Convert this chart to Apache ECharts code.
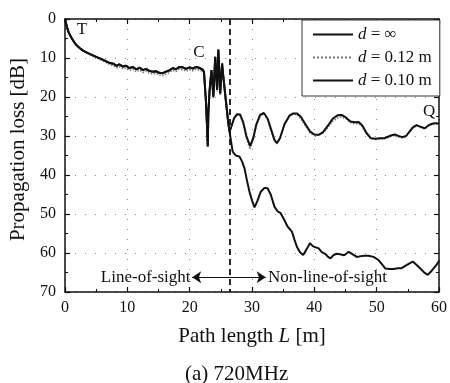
<!DOCTYPE html>
<html>
<head>
<meta charset="UTF-8">
<title>Propagation loss - 720MHz</title>
<script src="https://cdn.jsdelivr.net/npm/echarts@6/dist/echarts.min.js"></script>
<style>
  html, body { margin: 0; padding: 0; background: #fff; }
  #main { width: 450px; height: 383px; }
</style>
</head>
<body>
<div id="main"></div>
<script>
// path length L [m] / propagation loss [dB]
const losPath = [
  [0, 0], [0.3, 2], [0.6, 3.5], [1.1, 5], [1.5, 6], [1.9, 6.8], [2.4, 7.5], [2.9, 8.1],
  [3.6, 8.7], [4.3, 9.2], [5, 9.7], [5.6, 10.1], [6.3, 10.6], [7.2, 11.3], [7.8, 11.5],
  [8.3, 12], [8.7, 11.6], [9.3, 12.2], [9.8, 12], [10.3, 12.6], [10.9, 12.3], [11.4, 12.9],
  [12, 12.5], [12.5, 13.1], [13, 12.8], [13.5, 13.3], [14.1, 13.5], [14.6, 13.4], [15.1, 13.8],
  [15.7, 13.9], [16.2, 13.5], [16.7, 13.2], [17.3, 12.6], [17.8, 12.9], [18.3, 12.3],
  [18.9, 12.4], [19.4, 12.8], [20, 12.4], [20.5, 12.7], [21, 12.3], [21.5, 12.5], [21.8, 12.2],
  [22.1, 13], [22.3, 13.6], [22.6, 20.8], [22.8, 28], [22.9, 32.7], [23.0, 24], [23.2, 18.2],
  [23.5, 13.1], [23.8, 19.9], [24.1, 9.7], [24.4, 18.2], [24.6, 7.8], [24.9, 19.1],
  [25.2, 11.4], [25.4, 14.8], [25.8, 20.8], [26.2, 26.7], [26.4, 28.9]
];
const losPath012 = [
  [0, 0], [0.3, 2], [0.6, 3.5], [1.1, 5], [1.5, 6], [1.9, 6.8], [2.4, 7.5], [2.9, 8.1],
  [3.6, 8.8], [4.3, 9.4], [5, 9.9], [5.6, 10.4], [6.3, 10.9], [7.2, 11.7], [7.8, 12],
  [8.3, 12.5], [8.7, 12.2], [9.3, 12.8], [9.8, 12.6], [10.3, 13.2], [10.9, 12.9], [11.4, 13.5],
  [12, 13.1], [12.5, 13.7], [13, 13.4], [13.5, 13.9], [14.1, 14.1], [14.6, 14], [15.1, 14.4],
  [15.7, 14.5], [16.2, 14.1], [16.7, 13.8], [17.3, 13.2], [17.8, 13.5], [18.3, 12.9],
  [18.9, 13], [19.4, 13.4], [20, 13], [20.5, 13.3], [21, 12.9], [21.5, 13.1], [21.8, 12.8],
  [22.1, 13.4], [22.3, 14], [22.6, 21.5], [22.8, 28.5], [22.9, 32], [23.0, 24.5], [23.2, 18.8],
  [23.5, 13.6], [23.8, 20.4], [24.1, 10.2], [24.4, 18.6], [24.6, 8.3], [24.9, 19.5],
  [25.2, 11.9], [25.4, 15.2], [25.8, 21.2], [26.2, 27], [26.4, 29.2]
];
const nlosInf = [
  [26.6, 31], [26.9, 34], [27.4, 35], [28, 35.3], [28.4, 36.5], [28.8, 38.3], [29.2, 41.5],
  [29.6, 44.3], [30, 46.5], [30.4, 48.3], [30.9, 46.5], [31.4, 44.3], [32, 43.3], [32.5, 43.4],
  [33, 45], [33.6, 48.1], [34.1, 49.3], [34.6, 49.8], [35.1, 51.3], [35.7, 53.2], [36.4, 54.5],
  [36.8, 56.5], [37.2, 58.4], [37.7, 59.8], [38.2, 60.5], [38.7, 59.2], [39.3, 57.5],
  [39.8, 58.3], [40.7, 58.8], [41.2, 59.8], [41.8, 60.3], [42.2, 61], [42.6, 61.4],
  [43.1, 60.5], [43.6, 60.2], [44.1, 60.3], [44.8, 60.6], [45.5, 59.7], [46.1, 60.3],
  [46.8, 61], [47.5, 60.8], [48.1, 60.7], [48.7, 60.7], [49.5, 61], [50.3, 61.8], [50.8, 62.8],
  [51.4, 64], [52.1, 64.1], [52.7, 64.1], [53.4, 63.9], [54, 63.9], [54.6, 63.3], [55.2, 62.7],
  [55.8, 62.2], [56.5, 63.2], [57.2, 64.3], [57.7, 65.1], [58.2, 65.6], [58.8, 64.6],
  [59.3, 63.6], [59.8, 62.6], [60, 62]
];
const nlos010 = [
  [26.7, 27.5], [27.1, 25.5], [27.6, 24.4], [28.1, 24.5], [28.6, 26.5], [29.1, 30], [29.7, 32.6],
  [30.2, 30.5], [30.7, 27], [31.3, 24.6], [31.9, 24.1], [32.5, 25.5], [33.1, 28.5], [33.6, 31],
  [34.0, 31.8], [34.5, 30.5], [35.2, 27], [36, 24.8], [36.6, 24.2], [37.2, 24.2], [37.8, 25],
  [38.5, 26.8], [39.3, 28.8], [40, 29.6], [40.7, 29.7], [41.4, 29], [42.2, 27.3], [43, 25.5],
  [43.7, 24.7], [44.4, 24.6], [45.1, 25.3], [45.8, 26.3], [46.5, 26.5], [47.1, 26.4],
  [47.7, 27.3], [48.4, 29.3], [49.1, 30.6], [49.8, 30.7], [50.5, 30.6], [51.2, 30.6],
  [51.8, 30.2], [52.4, 29.8], [52.9, 29.6], [53.5, 30.0], [54.1, 30.3], [54.7, 30.0],
  [55.3, 28.8], [55.8, 27.8], [56.4, 27.2], [57.0, 27.6], [57.7, 28.0], [58.3, 27.3],
  [58.8, 26.9], [59.3, 26.7], [60, 26.8]
];
const nlos012 = [
  [26.7, 27.8], [27.1, 25.8], [27.6, 24.6], [28.1, 24.8], [28.6, 27], [29.1, 30.6], [29.7, 33.4],
  [30.2, 31], [30.7, 27.3], [31.3, 24.8], [31.9, 24.3], [32.5, 25.8], [33.1, 28.8], [33.6, 31.3],
  [34.0, 32], [34.5, 30.8], [35.2, 27.3], [36, 25], [36.6, 24.4], [37.2, 24.5], [37.8, 25.5],
  [38.5, 27.3], [39.3, 29.2], [40, 29.9], [40.7, 29.8], [41.4, 29.2], [42.2, 27.8], [43, 26.2],
  [43.7, 25.4], [44.4, 25.1], [45.1, 25.6], [45.8, 26.6], [46.5, 26.9], [47.1, 26.8],
  [47.7, 27.6], [48.4, 29.5], [49.1, 30.8], [49.8, 30.9], [50.5, 30.8], [51.2, 30.7],
  [51.8, 30.4], [52.4, 30.0], [52.9, 29.8], [53.5, 30.2], [54.1, 30.5], [54.7, 30.2],
  [55.3, 29.0], [55.8, 28.0], [56.4, 27.4], [57.0, 27.8], [57.7, 28.2], [58.3, 27.5],
  [58.8, 27.1], [59.3, 26.9], [60, 27]
];
const seriesNames = ['d = ∞', 'd = 0.12 m', 'd = 0.10 m'];
const xTicks = [0, 10, 20, 30, 40, 50, 60];
const yTicks = [0, 10, 20, 30, 40, 50, 60, 70];
const cornerL = 26.4;   // boundary line-of-sight / non-line-of-sight
const pointNotes = [['T', 2.7, 2.8], ['C', 21.5, 8.6], ['Q', 58.4, 23.6]];

const serif = 'Liberation Serif, Times New Roman, serif';
const ink = '#111';

const chart = echarts.init(document.getElementById('main'), null, { renderer: 'canvas' });

const gridDots = { show: true, lineStyle: { color: '#888', width: 1, type: [1, 9] } };

const xBase = {
  type: 'value', min: xTicks[0], max: xTicks[xTicks.length - 1], interval: 10,
  axisLine: { show: true, onZero: false, lineStyle: { color: ink, width: 1.5 } },
  axisTick: { show: true, inside: true, length: 5, lineStyle: { color: ink, width: 1.2 } },
  minorTick: { show: true, splitNumber: 2, length: 3, lineStyle: { color: ink } }
};
const yBase = {
  type: 'value', inverse: true, min: yTicks[0], max: yTicks[yTicks.length - 1], interval: 10,
  axisLine: { show: true, onZero: false, lineStyle: { color: ink, width: 1.5 } },
  axisTick: { show: true, inside: true, length: 5, lineStyle: { color: ink, width: 1.2 } },
  minorTick: { show: true, splitNumber: 2, length: 3, lineStyle: { color: ink } }
};

chart.setOption({
  animation: false,
  backgroundColor: '#fff',
  textStyle: { fontFamily: serif },
  grid: { left: 65, right: 9, top: 19, bottom: 91 },
  title: {
    text: '(a) 720MHz', left: 180, top: 359,
    textStyle: { fontFamily: serif, fontSize: 21, fontWeight: 'normal', color: ink }
  },
  legend: {
    orient: 'vertical', left: 302, top: 20, width: 139,
    padding: [6, 8, 7, 10], itemGap: 6, itemWidth: 40, itemHeight: 14,
    backgroundColor: '#fff', borderColor: '#333', borderWidth: 1,
    itemStyle: { opacity: 0 },
    data: seriesNames,
    formatter: n => '{it|d}' + n.slice(1),
    textStyle: {
      fontFamily: serif, fontSize: 17, color: ink,
      rich: { it: { fontFamily: serif, fontSize: 17, fontStyle: 'italic', color: ink } }
    }
  },
  xAxis: [
    Object.assign({}, xBase, {
      position: 'bottom',
      name: 'Path length {it|L} [m]', nameLocation: 'middle', nameGap: 34,
      nameTextStyle: {
        fontFamily: serif, fontSize: 21, color: ink,
        rich: { it: { fontFamily: serif, fontSize: 21, fontStyle: 'italic', color: ink } }
      },
      axisLabel: { fontFamily: serif, fontSize: 16, color: ink, margin: 8 },
      splitLine: gridDots
    }),
    Object.assign({}, xBase, { position: 'top', axisLabel: { show: false }, splitLine: { show: false } })
  ],
  yAxis: [
    Object.assign({}, yBase, {
      position: 'left',
      name: 'Propagation loss [dB]', nameLocation: 'middle', nameGap: 26, nameRotate: 90,
      nameTextStyle: { fontFamily: serif, fontSize: 21, color: ink, padding: [0, 0, 0, 12] },
      axisLabel: { fontFamily: serif, fontSize: 16, color: ink, margin: 9 },
      splitLine: gridDots
    }),
    Object.assign({}, yBase, { position: 'right', axisLabel: { show: false }, splitLine: { show: false } })
  ],
  series: [
    {
      name: seriesNames[1], type: 'line', symbol: 'none', z: 2,
      data: losPath012.concat(nlos012),
      lineStyle: { color: '#777', width: 1.5, type: 'dotted' },
      itemStyle: { color: '#777' }
    },
    {
      name: seriesNames[0], type: 'line', symbol: 'none', z: 3,
      data: losPath.concat(nlosInf),
      lineStyle: { color: ink, width: 2 },
      itemStyle: { color: ink },
      markLine: {
        silent: true, symbol: ['none', 'none'], label: { show: false },
        lineStyle: { color: ink, width: 1.8, type: [6, 4] },
        data: [{ xAxis: cornerL }]
      }
    },
    {
      name: seriesNames[2], type: 'line', symbol: 'none', z: 4,
      data: losPath.concat(nlos010),
      lineStyle: { color: ink, width: 2 },
      itemStyle: { color: ink },
      markLine: {
        silent: true, symbol: ['none', 'arrow'], symbolSize: 9, label: { show: false },
        lineStyle: { color: ink, width: 1, type: 'solid' },
        data: [
          [{ coord: [cornerL, 66.2] }, { coord: [20.4, 66.2] }],
          [{ coord: [cornerL, 66.2] }, { coord: [32.2, 66.2] }]
        ]
      },
      markPoint: {
        silent: true, symbol: 'circle', symbolSize: 0,
        label: { show: true, fontFamily: serif, fontSize: 17, color: ink },
        data: pointNotes.map(p => ({ coord: [p[1], p[2]], value: p[0], label: { position: 'inside', formatter: p[0] } }))
          .concat([
            { coord: [20.3, 66.2], label: { position: 'left', distance: 1, formatter: 'Line-of-sight' } },
            { coord: [32.4, 66.2], label: { position: 'right', distance: 1, formatter: 'Non-line-of-sight' } }
          ])
      }
    }
  ]
});
</script>
</body>
</html>
